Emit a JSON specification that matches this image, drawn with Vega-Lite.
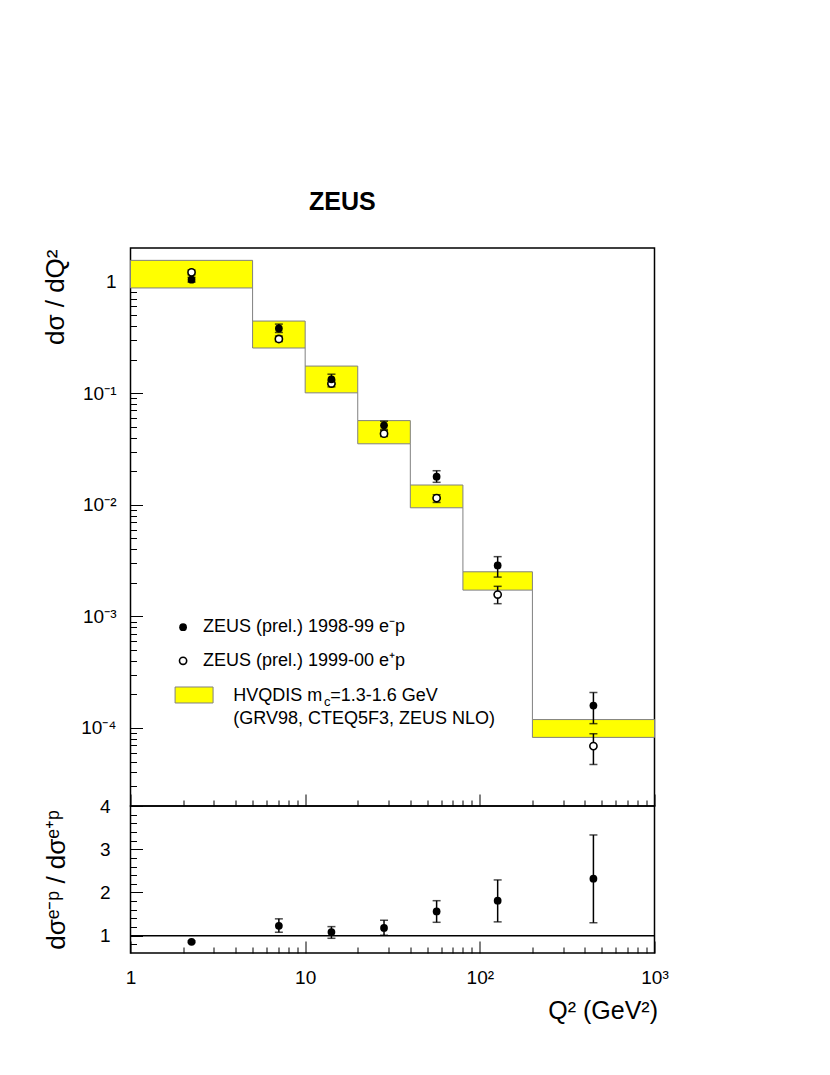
{
  "$schema": "https://vega.github.io/schema/vega-lite/v6.json",
  "background": "white",
  "padding": {"left": 41.5, "top": 190, "right": 20, "bottom": 10},
  "title": {"text": "ZEUS", "fontSize": 25, "fontWeight": "bold", "font": "Liberation Sans", "color": "black", "anchor": "middle", "offset": 32, "dx": -13},
  "config": {
    "font": "Liberation Sans",
    "view": {"stroke": "black", "strokeWidth": 1.5},
    "axis": {"labelFont": "Liberation Sans", "titleFont": "Liberation Sans", "labelColor": "black", "titleColor": "black", "titleFontWeight": "normal", "tickColor": "black", "tickWidth": 1, "domain": false, "grid": false, "labelOverlap": false, "labelFlush": false, "labelBound": false},
    "axisY": {"labelOverlap": false},
    "text": {"font": "Liberation Sans"}
  },
  "spacing": 0,
  "bounds": "flush",
  "datasets": {
    "theory": [
      {"q_lo": 1, "q_hi": 5, "lo": 0.877, "hi": 1.55},
      {"q_lo": 5, "q_hi": 10, "lo": 0.254, "hi": 0.443},
      {"q_lo": 10, "q_hi": 20, "lo": 0.1007, "hi": 0.175},
      {"q_lo": 20, "q_hi": 40, "lo": 0.0352, "hi": 0.0568},
      {"q_lo": 40, "q_hi": 80, "lo": 0.0094, "hi": 0.01504},
      {"q_lo": 80, "q_hi": 200, "lo": 0.00172, "hi": 0.00251},
      {"q_lo": 200, "q_hi": 1000, "lo": 0.0000824, "hi": 0.000119}
    ],
    "steps": [
      {"q": 5, "from": 0.877, "to": 0.443},
      {"q": 10, "from": 0.254, "to": 0.175},
      {"q": 20, "from": 0.1007, "to": 0.0568},
      {"q": 40, "from": 0.0352, "to": 0.01504},
      {"q": 80, "from": 0.0094, "to": 0.00251},
      {"q": 200, "from": 0.00172, "to": 0.000119}
    ],
    "xsec": [
      {"series": "em", "q": 2.236, "v": 1.04, "lo": 0.99, "hi": 1.09},
      {"series": "em", "q": 7.07, "v": 0.38, "lo": 0.35, "hi": 0.416},
      {"series": "em", "q": 14.14, "v": 0.133, "lo": 0.12, "hi": 0.148},
      {"series": "em", "q": 28.28, "v": 0.0515, "lo": 0.0474, "hi": 0.056},
      {"series": "em", "q": 56.57, "v": 0.01787, "lo": 0.0159, "hi": 0.0202},
      {"series": "em", "q": 126.5, "v": 0.00286, "lo": 0.00225, "hi": 0.00343},
      {"series": "em", "q": 447, "v": 0.000159, "lo": 0.0001094, "hi": 0.000208},
      {"series": "ep", "q": 2.236, "v": 1.21, "lo": 1.15, "hi": 1.27},
      {"series": "ep", "q": 7.07, "v": 0.306, "lo": 0.29, "hi": 0.325},
      {"series": "ep", "q": 14.14, "v": 0.122, "lo": 0.114, "hi": 0.13},
      {"series": "ep", "q": 28.28, "v": 0.0434, "lo": 0.041, "hi": 0.046},
      {"series": "ep", "q": 56.57, "v": 0.01148, "lo": 0.0105, "hi": 0.0123},
      {"series": "ep", "q": 126.5, "v": 0.00157, "lo": 0.0013, "hi": 0.00186},
      {"series": "ep", "q": 447, "v": 0.0000688, "lo": 0.0000471, "hi": 0.0000888}
    ],
    "ratio": [
      {"q": 2.236, "r": 0.86, "lo": 0.84, "hi": 0.88},
      {"q": 7.07, "r": 1.23, "lo": 1.08, "hi": 1.39},
      {"q": 14.14, "r": 1.085, "lo": 0.94, "hi": 1.21},
      {"q": 28.28, "r": 1.18, "lo": 1.01, "hi": 1.36},
      {"q": 56.57, "r": 1.56, "lo": 1.31, "hi": 1.81},
      {"q": 126.5, "r": 1.81, "lo": 1.32, "hi": 2.29},
      {"q": 447, "r": 2.32, "lo": 1.3, "hi": 3.33}
    ],
    "one": [{}]
  },
  "vconcat": [
    {
      "width": 524,
      "height": 558,
      "layer": [
        {
          "data": {"name": "theory"},
          "mark": {"type": "rect", "fill": "#ffff00", "stroke": "#808080", "strokeWidth": 1},
          "encoding": {
            "x": {"field": "q_lo", "type": "quantitative", "scale": {"type": "log", "domain": [1, 1000], "nice": false},
              "axis": {"values": [1,2,3,4,5,6,7,8,9,10,20,30,40,50,60,70,80,90,100,200,300,400,500,600,700,800,900,1000], "labels": false, "title": null,
                "tickSize": {"condition": {"test": "abs(log(datum.value)/LN10 - round(log(datum.value)/LN10)) < 0.001", "value": -12}, "value": -6}}},
            "x2": {"field": "q_hi"},
            "y": {"field": "lo", "type": "quantitative", "scale": {"type": "log", "domain": [0.00002, 2], "nice": false},
              "axis": {"values": [0.00003,0.00004,0.00005,0.00006,0.00007,0.00008,0.00009,0.0001,0.0002,0.0003,0.0004,0.0005,0.0006,0.0007,0.0008,0.0009,0.001,0.002,0.003,0.004,0.005,0.006,0.007,0.008,0.009,0.01,0.02,0.03,0.04,0.05,0.06,0.07,0.08,0.09,0.1,0.2,0.3,0.4,0.5,0.6,0.7,0.8,0.9,1],
                "labelExpr": "abs(log(datum.value)/LN10) < 0.001 ? '1' : abs(log(datum.value)/LN10 + 1) < 0.001 ? '10⁻¹' : abs(log(datum.value)/LN10 + 2) < 0.001 ? '10⁻²' : abs(log(datum.value)/LN10 + 3) < 0.001 ? '10⁻³' : abs(log(datum.value)/LN10 + 4) < 0.001 ? '10⁻⁴' : ''",
                "labelFontSize": 19, "labelPadding": 26.5, "labelOverlap": false,
                "tickSize": {"condition": {"test": "abs(log(datum.value)/LN10 - round(log(datum.value)/LN10)) < 0.001", "value": -12}, "value": -6},
                "title": "dσ / dQ²", "titleFontSize": 26, "titleAngle": -90, "titleX": -62, "titleY": 1, "titleAlign": "right", "titleBaseline": "bottom"}},
            "y2": {"field": "hi"}
          }
        },
        {
          "data": {"name": "steps"},
          "mark": {"type": "rule", "color": "#808080", "strokeWidth": 1},
          "encoding": {
            "x": {"field": "q", "type": "quantitative"},
            "y": {"field": "from", "type": "quantitative"},
            "y2": {"field": "to"}
          }
        },
        {
          "data": {"name": "xsec"},
          "mark": {"type": "rule", "color": "black", "strokeWidth": 1.5},
          "encoding": {
            "x": {"field": "q", "type": "quantitative"},
            "y": {"field": "lo", "type": "quantitative"},
            "y2": {"field": "hi"}
          }
        },
        {
          "data": {"name": "xsec"},
          "mark": {"type": "tick", "orient": "horizontal", "color": "black", "size": 8, "thickness": 1.5},
          "encoding": {
            "x": {"field": "q", "type": "quantitative"},
            "y": {"field": "lo", "type": "quantitative"}
          }
        },
        {
          "data": {"name": "xsec"},
          "mark": {"type": "tick", "orient": "horizontal", "color": "black", "size": 8, "thickness": 1.5},
          "encoding": {
            "x": {"field": "q", "type": "quantitative"},
            "y": {"field": "hi", "type": "quantitative"}
          }
        },
        {
          "data": {"name": "xsec"},
          "transform": [{"filter": "datum.series == 'ep'"}],
          "mark": {"type": "point", "shape": "circle", "size": 52, "fill": "white", "stroke": "black", "strokeWidth": 1.6, "opacity": 1},
          "encoding": {
            "x": {"field": "q", "type": "quantitative"},
            "y": {"field": "v", "type": "quantitative"}
          }
        },
        {
          "data": {"name": "xsec"},
          "transform": [{"filter": "datum.series == 'em'"}],
          "mark": {"type": "point", "shape": "circle", "size": 60, "filled": true, "color": "black", "opacity": 1},
          "encoding": {
            "x": {"field": "q", "type": "quantitative"},
            "y": {"field": "v", "type": "quantitative"}
          }
        },
        {
          "data": {"name": "one"},
          "mark": {"type": "point", "shape": "circle", "size": 60, "filled": true, "color": "black", "opacity": 1},
          "encoding": {"x": {"datum": 2.0}, "y": {"datum": 0.0008}}
        },
        {
          "data": {"name": "one"},
          "mark": {"type": "point", "shape": "circle", "size": 52, "fill": "white", "stroke": "black", "strokeWidth": 1.6, "opacity": 1},
          "encoding": {"x": {"datum": 2.0}, "y": {"datum": 0.0004}}
        },
        {
          "data": {"name": "one"},
          "mark": {"type": "rect", "fill": "#ffff00", "stroke": "#808080", "strokeWidth": 1},
          "encoding": {"x": {"datum": 1.8}, "x2": {"datum": 2.97}, "y": {"datum": 0.000233}, "y2": {"datum": 0.0001675}}
        },
        {
          "data": {"name": "one"},
          "mark": {"type": "text", "align": "left", "baseline": "middle", "fontSize": 18, "color": "black"},
          "encoding": {"x": {"datum": 2.6}, "y": {"datum": 0.0008}, "text": {"value": "ZEUS (prel.) 1998-99 e⁻p"}}
        },
        {
          "data": {"name": "one"},
          "mark": {"type": "text", "align": "left", "baseline": "middle", "fontSize": 18, "color": "black"},
          "encoding": {"x": {"datum": 2.6}, "y": {"datum": 0.0004}, "text": {"value": "ZEUS (prel.) 1999-00 e⁺p"}}
        },
        {
          "data": {"name": "one"},
          "mark": {"type": "text", "align": "left", "baseline": "middle", "fontSize": 18, "color": "black"},
          "encoding": {"x": {"datum": 3.88}, "y": {"datum": 0.000194}, "text": {"value": "HVQDIS m"}}
        },
        {
          "data": {"name": "one"},
          "mark": {"type": "text", "align": "left", "baseline": "middle", "fontSize": 13, "color": "black"},
          "encoding": {"x": {"datum": 12.8}, "y": {"datum": 0.000172}, "text": {"value": "c"}}
        },
        {
          "data": {"name": "one"},
          "mark": {"type": "text", "align": "left", "baseline": "middle", "fontSize": 18, "color": "black"},
          "encoding": {"x": {"datum": 13.9}, "y": {"datum": 0.000194}, "text": {"value": "=1.3-1.6 GeV"}}
        },
        {
          "data": {"name": "one"},
          "mark": {"type": "text", "align": "left", "baseline": "middle", "fontSize": 18, "color": "black"},
          "encoding": {"x": {"datum": 3.88}, "y": {"datum": 0.0001205}, "text": {"value": "(GRV98, CTEQ5F3, ZEUS NLO)"}}
        }
      ]
    },
    {
      "width": 524,
      "height": 147,
      "resolve": {"scale": {"y": "independent"}, "axis": {"y": "independent"}},
      "layer": [
        {
          "layer": [
            {
              "data": {"name": "ratio"},
              "mark": {"type": "rule", "color": "black", "strokeWidth": 1.5},
              "encoding": {
                "x": {"field": "q", "type": "quantitative", "scale": {"type": "log", "domain": [1, 1000], "nice": false},
                  "axis": {"values": [1,2,3,4,5,6,7,8,9,10,20,30,40,50,60,70,80,90,100,200,300,400,500,600,700,800,900,1000],
                    "labelExpr": "abs(log(datum.value)/LN10) < 0.001 ? '1' : abs(log(datum.value)/LN10 - 1) < 0.001 ? '10' : abs(log(datum.value)/LN10 - 2) < 0.001 ? '10²' : abs(log(datum.value)/LN10 - 3) < 0.001 ? '10³' : ''",
                    "labelFontSize": 19, "labelPadding": 27, "labelOverlap": false,
                    "tickSize": {"condition": {"test": "abs(log(datum.value)/LN10 - round(log(datum.value)/LN10)) < 0.001", "value": -12}, "value": -6},
                    "title": "Q² (GeV²)", "titleFontSize": 25, "titleX": 527, "titleY": 57, "titleAlign": "right", "titleBaseline": "middle"}},
                "y": {"field": "lo", "type": "quantitative", "scale": {"domain": [0.6, 4], "nice": false, "zero": false},
                  "axis": {"orient": "left", "values": [1, 2, 3, 4],
                    "labelFontSize": 19, "labelPadding": 32.5, "labelOverlap": false, "tickSize": -12,
                    "title": "dσᵉ⁻ᵖ / dσᵉ⁺ᵖ", "titleFontSize": 26, "titleAngle": -90, "titleX": -61, "titleY": 73.5, "titleAlign": "center", "titleBaseline": "bottom"}},
                "y2": {"field": "hi"}
              }
            },
            {
              "data": {"name": "ratio"},
              "mark": {"type": "tick", "orient": "horizontal", "color": "black", "size": 8, "thickness": 1.5},
              "encoding": {
                "x": {"field": "q", "type": "quantitative"},
                "y": {"field": "lo", "type": "quantitative"}
              }
            },
            {
              "data": {"name": "ratio"},
              "mark": {"type": "tick", "orient": "horizontal", "color": "black", "size": 8, "thickness": 1.5},
              "encoding": {
                "x": {"field": "q", "type": "quantitative"},
                "y": {"field": "hi", "type": "quantitative"}
              }
            },
            {
              "data": {"name": "one"},
              "mark": {"type": "rule", "color": "black", "strokeWidth": 1.5},
              "encoding": {"y": {"datum": 1}}
            },
            {
              "data": {"name": "ratio"},
              "mark": {"type": "point", "shape": "circle", "size": 60, "filled": true, "color": "black", "opacity": 1},
              "encoding": {
                "x": {"field": "q", "type": "quantitative"},
                "y": {"field": "r", "type": "quantitative"}
              }
            }
          ]
        },
        {
          "data": {"name": "one"},
          "mark": {"type": "rule", "opacity": 0},
          "encoding": {
            "y": {"datum": 1, "type": "quantitative", "scale": {"domain": [0.6, 4], "nice": false, "zero": false},
              "axis": {"orient": "left", "values": [0.8, 1.2, 1.4, 1.6, 1.8, 2.2, 2.4, 2.6, 2.8, 3.2, 3.4, 3.6, 3.8], "labels": false, "title": null, "tickSize": -6}}
          }
        }
      ]
    }
  ]
}
